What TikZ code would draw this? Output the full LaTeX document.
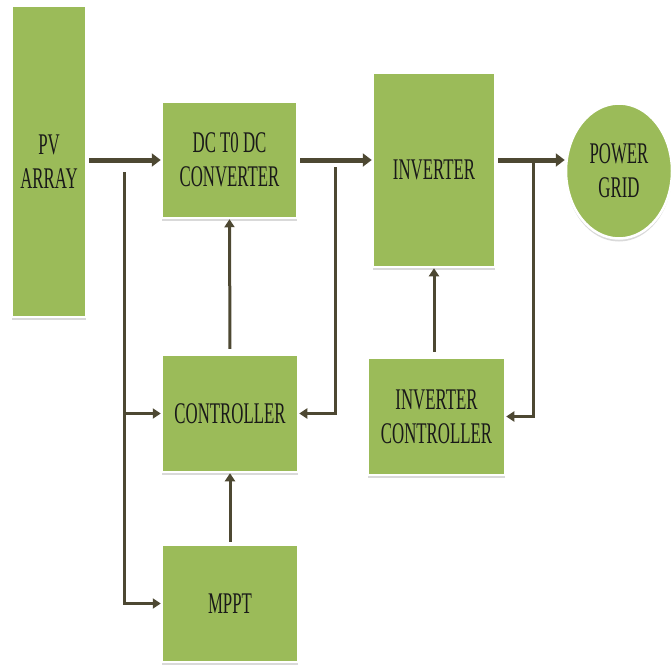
\documentclass[tikz,border=0pt]{standalone}
\usepackage{fontspec}
\setmainfont{Liberation Serif}[FakeStretch=0.56]
\usetikzlibrary{shapes.geometric,shadows,arrows.meta}
\definecolor{boxgreen}{HTML}{9BBB59}
\definecolor{linecol}{HTML}{4D4832}
\tikzset{
  blk/.style={rectangle, fill=boxgreen, draw=white, line width=2.5pt, inner sep=0pt,
    align=center, text=black!90, font=\fontsize{30}{34}\selectfont,
    drop shadow={shadow xshift=0pt, shadow yshift=-3pt, opacity=0.3}},
  thickarrow/.style={draw=linecol, line width=5pt, -{Triangle[length=9pt,width=13pt]}},
  thinarrow/.style={draw=linecol, line width=3pt, -{Triangle[length=8pt,width=10pt]}},
  thinline/.style={draw=linecol, line width=3pt}
}
\begin{document}
\begin{tikzpicture}[x=1pt,y=-1pt]
\useasboundingbox (0,0) rectangle (672,670);
\node[blk, minimum width=74pt, minimum height=311pt] (pv) at (49,161.5) {PV\\ARRAY};
\node[blk, minimum width=135pt, minimum height=116pt] (dc) at (229.5,160) {DC T0 DC\\CONVERTER};
\node[blk, minimum width=122pt, minimum height=194pt] (inv) at (434,170) {INVERTER};
\node[blk, ellipse, minimum width=106pt, minimum height=135pt] (grid) at (619,171) {POWER\\GRID};
\node[blk, minimum width=136pt, minimum height=117pt] (ctrl) at (230,413.5) {CONTROLLER};
\node[blk, minimum width=136pt, minimum height=117pt] (mppt) at (230,603.5) {MPPT};
\node[blk, minimum width=137pt, minimum height=117pt] (ictrl) at (436.5,416.5) {INVERTER\\CONTROLLER};
\coordinate (b1) at (124,172);
\coordinate (b2) at (335,167);
\coordinate (b3) at (533,160);
\draw[thickarrow, shorten <=2pt] (pv.east |- dc.west) -- (dc.west);
\draw[thickarrow, shorten <=2pt] (dc.east) -- (inv.west |- dc.east);
\draw[thickarrow, shorten <=2pt] (inv.east |- dc.east) -- (grid.west |- dc.east);
\draw[thinarrow] (b1) |- (ctrl.west);
\draw[thinarrow] (b1) |- (mppt.west);
\draw[thinarrow] (b2) |- (ctrl.east);
\draw[thinarrow] (b3) |- (ictrl.east);
\draw[thinarrow, shorten <=5pt] (ctrl.north) -- (dc.south);
\draw[thinarrow, shorten <=2pt] (mppt.north) -- (ctrl.south);
\draw[thinarrow, shorten <=5pt] (ictrl.north -| inv.south) -- (inv.south);
\end{tikzpicture}
\end{document}
